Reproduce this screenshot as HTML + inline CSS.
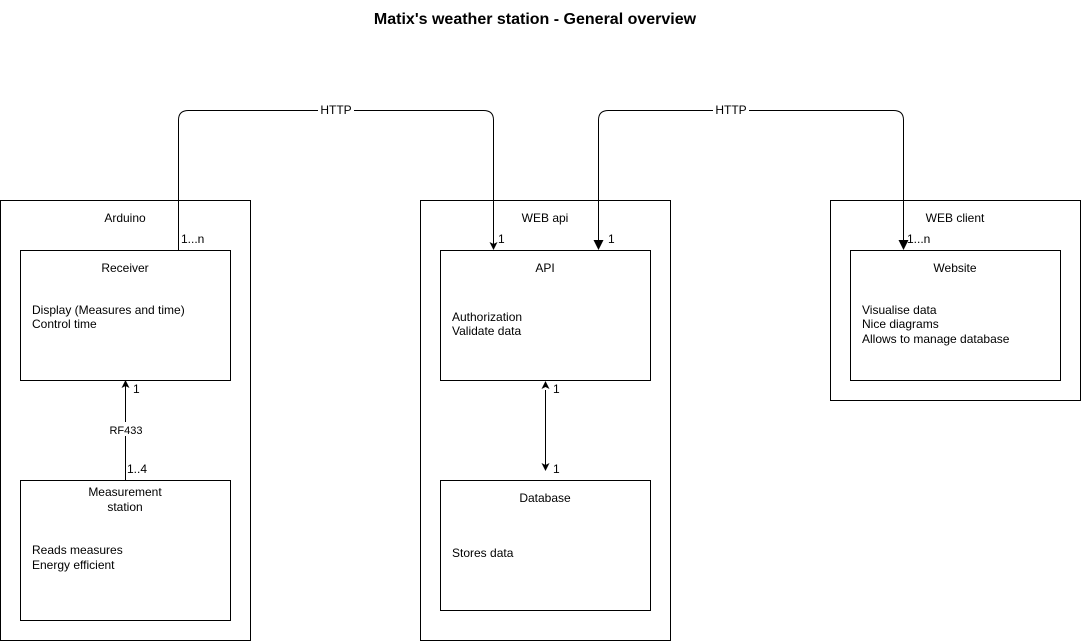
<!DOCTYPE html>
<html><head><meta charset="utf-8"><style>
body{margin:0;background:#fff;}
svg{display:block;font-family:"Liberation Sans",sans-serif;font-size:12px;}
</style></head><body>
<svg width="1081" height="641" viewBox="0 0 1081 641" xmlns="http://www.w3.org/2000/svg">
<defs>
<marker id="a" markerWidth="8" markerHeight="8" refX="7" refY="4" orient="auto" markerUnits="userSpaceOnUse"><path d="M0,0 L8,4 L0,8 L2,4 Z" fill="#000"/></marker>
<marker id="f" markerWidth="10" markerHeight="10" refX="9" refY="5" orient="auto" markerUnits="userSpaceOnUse"><path d="M0,0 L10,5 L0,10 Z" fill="#000"/></marker>
</defs>
<text x="535" y="24" text-anchor="middle" font-weight="bold" font-size="16">Matix's weather station - General overview</text>
<g fill="none" stroke="#000" stroke-width="1">
<rect x="0.5" y="200.5" width="250" height="440"/>
<rect x="20.5" y="250.5" width="210" height="130"/>
<rect x="20.5" y="480.5" width="210" height="140"/>
<rect x="420.5" y="200.5" width="250" height="440"/>
<rect x="440.5" y="250.5" width="210" height="130"/>
<rect x="440.5" y="480.5" width="210" height="130"/>
<rect x="830.5" y="200.5" width="250" height="200"/>
<rect x="850.5" y="250.5" width="210" height="130"/>
<path d="M178.5,250 V120 Q178.5,110.5 188.5,110.5 H483.5 Q493.5,110.5 493.5,120 V249" marker-end="url(#a)"/>
<path d="M598.5,241 V120 Q598.5,110.5 608.5,110.5 H893.5 Q903.5,110.5 903.5,120 V249" marker-end="url(#f)"/>
<path d="M125.5,480 V381" marker-end="url(#a)"/>
<path d="M545.5,390 V470" marker-end="url(#a)"/>
</g>
<path d="M593.5,240 L603.5,240 L598.5,250 Z" fill="#000"/>
<path d="M545.5,381 L549.5,389 L545.5,387 L541.5,389 Z" fill="#000"/>
<rect x="318" y="103" width="36" height="14" fill="#fff"/>
<text x="336" y="114" text-anchor="middle">HTTP</text>
<rect x="713" y="103" width="36" height="14" fill="#fff"/>
<text x="731" y="114" text-anchor="middle">HTTP</text>
<rect x="106" y="422" width="40" height="14" fill="#fff"/>
<text x="126" y="434" text-anchor="middle" font-size="11">RF433</text>
<g text-anchor="middle">
<text x="125" y="222">Arduino</text>
<text x="125" y="272">Receiver</text>
<text x="125" y="496">Measurement</text>
<text x="125" y="511">station</text>
<text x="545" y="222">WEB api</text>
<text x="545" y="272">API</text>
<text x="545" y="502">Database</text>
<text x="955" y="222">WEB client</text>
<text x="955" y="272">Website</text>
</g>
<text x="32" y="314">Display (Measures and time)</text>
<text x="32" y="328">Control time</text>
<text x="32" y="554">Reads measures</text>
<text x="32" y="569">Energy efficient</text>
<text x="452" y="321">Authorization</text>
<text x="452" y="335">Validate data</text>
<text x="452" y="557">Stores data</text>
<text x="862" y="314">Visualise data</text>
<text x="862" y="328">Nice diagrams</text>
<text x="862" y="343">Allows to manage database</text>
<text x="181" y="243">1...n</text>
<text x="498" y="243">1</text>
<text x="608" y="243">1</text>
<text x="907" y="243">1...n</text>
<text x="133" y="393">1</text>
<text x="127" y="473">1..4</text>
<text x="553" y="393">1</text>
<text x="553" y="473">1</text>
</svg>
</body></html>
